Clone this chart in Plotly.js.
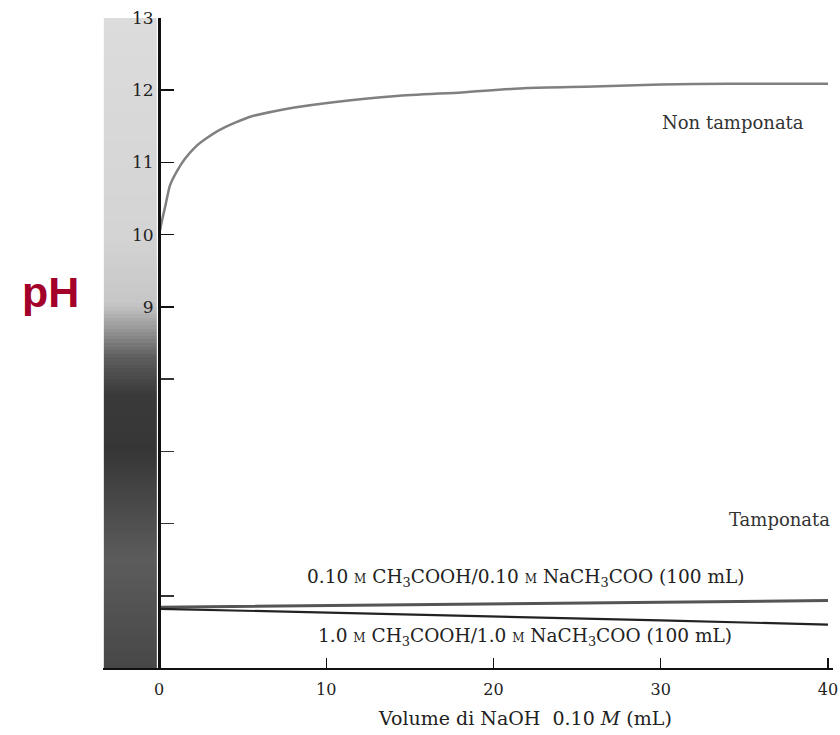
<!DOCTYPE html>
<html>
<head>
<meta charset="utf-8">
<script src="https://cdn.plot.ly/plotly-3.0.1.min.js"></script>
<style>html,body{margin:0;padding:0;background:#fff;}#chart{width:840px;height:735px;}</style>
</head>
<body>
<div id="chart"></div>
<script>
// NaOH volume (mL) and pH
const unbufferedVol = [0.05, 0.20, 0.38, 0.65, 1.10, 1.55, 2.15, 2.75, 3.55, 4.55, 5.55, 6.90, 8.10, 10.3, 14.2, 18.1, 22.0, 26.0, 30.0, 34.0, 40.0];
const unbufferedPH  = [10.05, 10.22, 10.40, 10.68, 10.89, 11.05, 11.21, 11.32, 11.44, 11.55, 11.64, 11.71, 11.76, 11.83, 11.92, 11.97, 12.03, 12.05, 12.08, 12.09, 12.09];

const bufferVol   = [0, 10, 20, 30, 40];
const buffer010PH = [4.84, 4.86, 4.89, 4.91, 4.935];
const buffer10PH  = [4.82, 4.77, 4.71, 4.66, 4.60];

const xTickVals = [0, 10, 20, 30, 40];
const xTickText = ['0', '10', '20', '30', '40'];
const yTickVals = [9, 10, 11, 12, 13];
const yTickText = ['9', '10', '11', '12', '13'];
const yUnlabelledTicks = [5, 6, 7, 8];

// pH colour band (decorative scale at the left)
const bandStops = [4, 13];
const bandEdges = [];
for (let v = bandStops[0]; v <= bandStops[1] + 1e-9; v += 0.05) bandEdges.push(+v.toFixed(2));
const bandZ = bandEdges.slice(0, -1).map((v, i) => [(v + bandEdges[i + 1]) / 2]);

const xMin = -3.35, xMax = 40.3;
const serif = 'DejaVu Serif, Liberation Serif, serif';

const traces = [
  {
    type: 'heatmap',
    x: [-3.3, -0.15],
    y: bandEdges,
    z: bandZ,
    zmin: 4, zmax: 13,
    showscale: false,
    hoverinfo: 'skip',
    colorscale: [
      [0.000, '#474747'],
      [0.111, '#555555'],
      [0.167, '#5c5c5c'],
      [0.256, '#484848'],
      [0.333, '#363636'],
      [0.422, '#3a3a3a'],
      [0.478, '#5e5e5e'],
      [0.522, '#989898'],
      [0.560, '#c6c6c6'],
      [0.667, '#d4d4d4'],
      [1.000, '#dcdcdc']
    ]
  },
  {
    type: 'scatter', mode: 'lines',
    x: unbufferedVol, y: unbufferedPH,
    line: {color: '#808080', width: 2.5, shape: 'spline', smoothing: 0.6},
    hoverinfo: 'skip'
  },
  {
    type: 'scatter', mode: 'lines',
    x: bufferVol, y: buffer010PH,
    line: {color: '#555555', width: 3},
    hoverinfo: 'skip'
  },
  {
    type: 'scatter', mode: 'lines',
    x: bufferVol, y: buffer10PH,
    line: {color: '#222222', width: 2.2},
    hoverinfo: 'skip'
  }
];

const smallM = '<span style="font-size:12px">M</span>';

const layout = {
  width: 840, height: 735,
  margin: {l: 103, r: 7, t: 18, b: 67},
  paper_bgcolor: '#ffffff',
  plot_bgcolor: '#ffffff',
  showlegend: false,
  hovermode: false,
  font: {family: serif, color: '#222222', size: 15},
  xaxis: {
    range: [xMin, xMax],
    showgrid: false, zeroline: false,
    showline: true, linecolor: '#111111', linewidth: 2,
    ticks: 'inside', ticklen: 10, tickwidth: 1.5, tickcolor: '#111111',
    tickvals: xTickVals, ticktext: xTickText,
    ticklabelstandoff: 6,
    tickfont: {family: serif, size: 16, color: '#222222'}
  },
  yaxis: {
    range: [4, 13],
    anchor: 'free',
    position: (0 - xMin) / (xMax - xMin),
    showgrid: false, zeroline: false,
    showline: true, linecolor: '#111111', linewidth: 3,
    ticks: 'inside', ticklen: 13, tickwidth: 1.5, tickcolor: '#111111',
    tickvals: yTickVals, ticktext: yTickText,
    ticklabelstandoff: 1,
    tickfont: {family: serif, size: 17, color: '#222222'},
    minor: {tickvals: yUnlabelledTicks, ticks: 'inside', ticklen: 13, tickwidth: 1.5, tickcolor: '#333333', showgrid: false}
  },
  annotations: [
    {xref: 'paper', yref: 'paper', x: (525 - 103) / 730, y: 1 - (718 - 18) / 650,
     xanchor: 'center', yanchor: 'middle', showarrow: false,
     text: 'Volume di NaOH  0.10 <i>M</i> (mL)', font: {family: serif, size: 19, color: '#222222'}},
    {xref: 'x', yref: 'y', x: 34.3, y: 11.55, text: 'Non tamponata', showarrow: false,
     font: {family: serif, size: 18, color: '#333333'}},
    {xref: 'x', yref: 'y', x: 37.1, y: 6.05, text: 'Tamponata', showarrow: false,
     font: {family: serif, size: 18, color: '#333333'}},
    {xref: 'x', yref: 'y', x: 21.9, y: 5.24,
     text: '0.10 ' + smallM + ' CH<sub>3</sub>COOH/0.10 ' + smallM + ' NaCH<sub>3</sub>COO (100 mL)',
     showarrow: false, font: {family: serif, size: 18.5, color: '#222222'}},
    {xref: 'x', yref: 'y', x: 21.9, y: 4.43,
     text: '1.0 ' + smallM + ' CH<sub>3</sub>COOH/1.0 ' + smallM + ' NaCH<sub>3</sub>COO (100 mL)',
     showarrow: false, font: {family: serif, size: 18.5, color: '#222222'}},
    {xref: 'paper', yref: 'paper', x: (50 - 103) / 730, y: 1 - (292 - 18) / 650,
     text: '<b>pH</b>', showarrow: false, xanchor: 'center', yanchor: 'middle',
     font: {family: 'Liberation Sans, Arial, sans-serif', size: 43, color: '#a3002a'}}
  ]
};

Plotly.newPlot('chart', traces, layout, {staticPlot: true, displayModeBar: false});
</script>
</body>
</html>
